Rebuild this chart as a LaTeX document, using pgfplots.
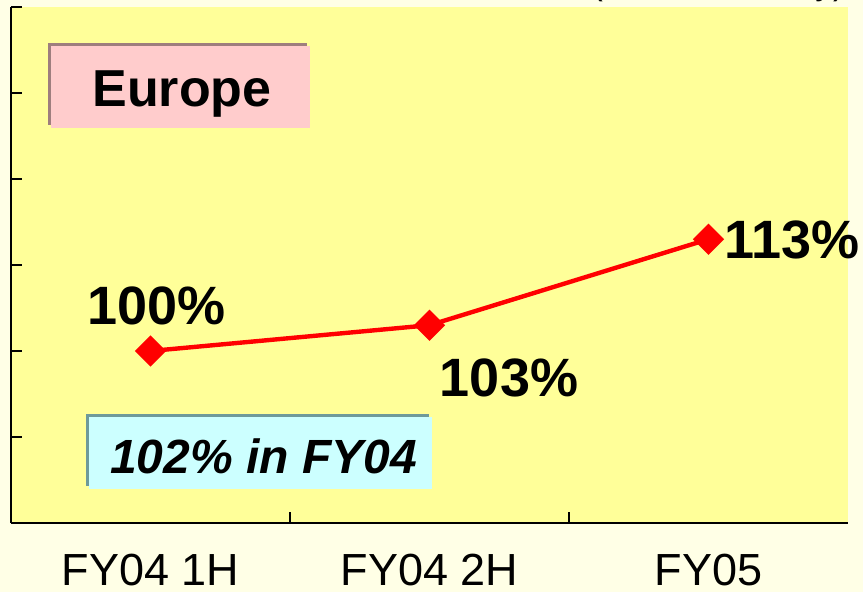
\documentclass[border=0pt]{standalone}
\usepackage{pgfplots}
\pgfplotsset{compat=1.18}
\usepackage{fontspec}
\setmainfont{Liberation Sans}
\definecolor{cream}{HTML}{FFFFE6}
\definecolor{plotyellow}{HTML}{FFFF99}
\definecolor{pinkbox}{HTML}{FFCCCC}
\definecolor{pinkedge}{HTML}{9E7E7E}
\definecolor{cyanbox}{HTML}{CCFFFF}
\definecolor{cyanedge}{HTML}{6E9A9A}
\begin{document}
\begin{tikzpicture}
\useasboundingbox[fill=cream] (-5.5bp,-34.5bp) rectangle (426bp,261.5bp);
\begin{axis}[at={(0,0)}, anchor=south west, scale only axis,
  width=418.5bp, height=258bp,
  xmin=-0.5, xmax=2.5, ymin=80, ymax=140,
  axis lines*=left,
  axis line style={line width=1.2bp, black},
  axis background/.style={fill=plotyellow},
  tick align=inside, major tick length=5.5bp,
  tick style={line width=1bp, black},
  ytick={90,100,...,140}, yticklabels={},
  xtick={0.5,1.5}, xticklabels={},
  extra x ticks={0,1,2},
  extra x tick labels={FY04 1H, FY04 2H, FY05},
  extra x tick style={major tick length=0pt,
    tick label style={font=\fontsize{22.5bp}{24bp}\selectfont, yshift=-12bp}},
  clip=false]
\addplot[red, line width=2.2bp, mark=square*, mark size=4.4bp,
  mark options={rotate=45, solid, fill=red}] coordinates {(0,100) (1,103) (2,113)};
\node[font=\bfseries\fontsize{27bp}{30bp}\selectfont] at (axis cs:0.023,105.3) {100\%};
\node[font=\bfseries\fontsize{27bp}{30bp}\selectfont] at (axis cs:1.285,96.9) {103\%};
\node[font=\bfseries\fontsize{27bp}{30bp}\selectfont] at (axis cs:2.299,112.9) {113\%};
\end{axis}
\fill[pinkedge] (18.5bp,199bp) rectangle (148bp,240bp);
\fill[pinkbox] (20bp,197.5bp) rectangle (149.5bp,238.5bp);
\node[anchor=base, font=\bfseries\fontsize{26bp}{28bp}\selectfont] at (85.5bp,208bp) {Europe};
\fill[cyanedge] (37.5bp,18.5bp) rectangle (209bp,54.5bp);
\fill[cyanbox] (39bp,17bp) rectangle (210.5bp,53bp);
\node[anchor=base, font=\bfseries\itshape\fontsize{24bp}{26bp}\selectfont] at (126.25bp,25bp) {102\% in FY04};
\node[anchor=base east, font=\fontsize{17.7bp}{20bp}\selectfont] at (420.5bp,264bp) {(Local currency)};
\end{tikzpicture}
\end{document}
